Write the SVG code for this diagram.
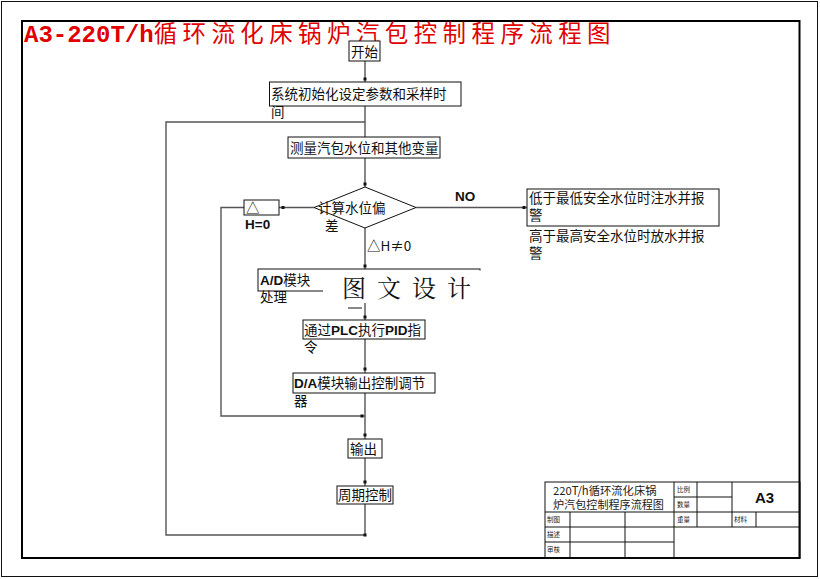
<svg xmlns="http://www.w3.org/2000/svg" width="820" height="579" viewBox="0 0 820 579">
<style>
.box{fill:#fff;stroke:#111;stroke-width:1}
.ln{fill:none;stroke:#555;stroke-width:1.4}
.t{font-family:"Noto Sans CJK SC","Liberation Sans",sans-serif;font-size:13.5px;fill:#111}
.b{font-family:"Liberation Sans",Arial,sans-serif;font-weight:bold;font-size:13.5px;fill:#111}
.s{font-family:"Noto Sans CJK SC",sans-serif;font-size:6.5px;fill:#222}
.tb{fill:none;stroke:#111;stroke-width:1}
</style>
<defs>
<rect id="dot" x="-1.5" y="-1.5" width="3" height="3" fill="#111"/>
</defs>
<rect x="0" y="0" width="820" height="579" fill="#fff"/>
<rect x="1.5" y="1.5" width="816" height="575" fill="none" stroke="#111" stroke-width="1"/>
<rect x="22" y="21" width="777.5" height="537" fill="none" stroke="#000" stroke-width="2"/>
<text x="24" y="42" fill="#e00000" font-size="24"><tspan font-family="Liberation Mono,monospace" font-weight="bold" font-size="24">A3-220T/h</tspan><tspan font-family="Noto Sans CJK SC,sans-serif" font-size="23.5" letter-spacing="5.4">循环流化床锅炉汽包控制程序流程图</tspan></text>

<g id="connectors">
<path class="ln" d="M365,61V82M365,106V137M365,158V187M365,228V269M365,303V320M365,339V373M365,393V439M365,458V486M365,504V535H166V122H365"/>
<path class="ln" d="M314,207.5H279M244,207.5H221V416H365"/>
<path class="ln" d="M416,207.5H527"/>
<path class="ln" d="M348,308H362"/>
<use href="#dot" x="365" y="79"/>
<use href="#dot" x="365" y="184"/>
<use href="#dot" x="283" y="207.5"/>
<use href="#dot" x="524" y="207.5"/>
<use href="#dot" x="365" y="266"/>
<use href="#dot" x="365" y="317"/>
<use href="#dot" x="365" y="369"/>
<use href="#dot" x="362" y="416"/>
<use href="#dot" x="365" y="435"/>
<use href="#dot" x="365" y="482"/>
<use href="#dot" x="365" y="535"/>
<text class="b" x="455" y="201">NO</text>
<text class="t" x="367" y="251">△H≠0</text>
</g>

<g id="start"><rect class="box" x="349" y="41" width="31" height="20"/><text class="t" x="351" y="56.5">开始</text></g>
<g id="init"><rect class="box" x="269.5" y="82" width="191.5" height="24"/><text class="t" x="271" y="99">系统初始化设定参数和采样时</text><text class="t" x="271" y="117">间</text></g>
<g id="measure"><rect class="box" x="288" y="137" width="152" height="21"/><text class="t" x="290" y="152.5">测量汽包水位和其他变量</text></g>
<g id="calc"><polygon class="box" points="365,187 416,207.5 365,228 314,207.5"/><text class="t" x="318" y="213">计算水位偏</text><text class="t" x="325" y="231">差</text></g>
<g id="h0"><rect class="box" x="244" y="200" width="35" height="15"/><text class="t" x="246" y="213">△</text><text class="b" x="245" y="229">H=0</text></g>
<g id="alarm"><rect class="box" x="527" y="189" width="192" height="37"/><text class="t" x="529" y="203">低于最低安全水位时注水并报</text><text class="t" x="529" y="220">警</text><text class="t" x="529" y="241">高于最高安全水位时放水并报</text><text class="t" x="529" y="258">警</text></g>
<g id="ad"><rect class="box" x="258" y="269" width="222" height="22"/><text class="t" x="260" y="285"><tspan class="b">A/D</tspan>模块</text><text class="t" x="260" y="302">处理</text></g>
<g id="watermark"><rect x="323" y="270.5" width="164" height="32.5" fill="#fff"/><text x="342" y="297" font-family="Noto Serif CJK SC,Noto Sans CJK SC,serif" font-size="24" letter-spacing="11" fill="#111">图文设计</text></g>
<g id="plc"><rect class="box" x="303" y="320" width="122" height="19"/><text class="t" x="304" y="334.5">通过<tspan class="b">PLC</tspan>执行<tspan class="b">PID</tspan>指</text><text class="t" x="304" y="352">令</text></g>
<g id="da"><rect class="box" x="293" y="373" width="142" height="20"/><text class="t" x="294" y="388"><tspan class="b">D/A</tspan>模块输出控制调节</text><text class="t" x="294" y="406">器</text></g>
<g id="output"><rect class="box" x="348" y="439" width="34" height="19"/><text class="t" x="350" y="453.5">输出</text></g>
<g id="cycle"><rect class="box" x="337" y="486" width="56" height="18"/><text class="t" x="338" y="500">周期控制</text></g>

<g id="titleblock">
<rect class="tb" x="545" y="482" width="255" height="76"/>
<path class="tb" d="M545,512H800M545,527H800M545,542H674M674,497H732M674,482V558M697,482V527M732,482V527M756,512V527M570,512V558M625,512V558"/>
<text x="553" y="495" font-family="Noto Sans CJK SC,sans-serif" font-size="11.3" fill="#222">220T/h循环流化床锅</text>
<text x="553" y="509" font-family="Noto Sans CJK SC,sans-serif" font-size="11.1" fill="#222">炉汽包控制程序流程图</text>
<text class="s" x="677" y="492">比例</text>
<text class="s" x="677" y="507">数量</text>
<text class="s" x="677" y="522">重量</text>
<text class="s" x="734" y="522">材料</text>
<text class="s" x="547" y="522">制图</text>
<text class="s" x="547" y="537">描述</text>
<text class="s" x="547" y="552">审核</text>
<text x="755" y="503" font-family="Liberation Sans,sans-serif" font-weight="bold" font-size="15" fill="#111">A3</text>
</g>
</svg>
